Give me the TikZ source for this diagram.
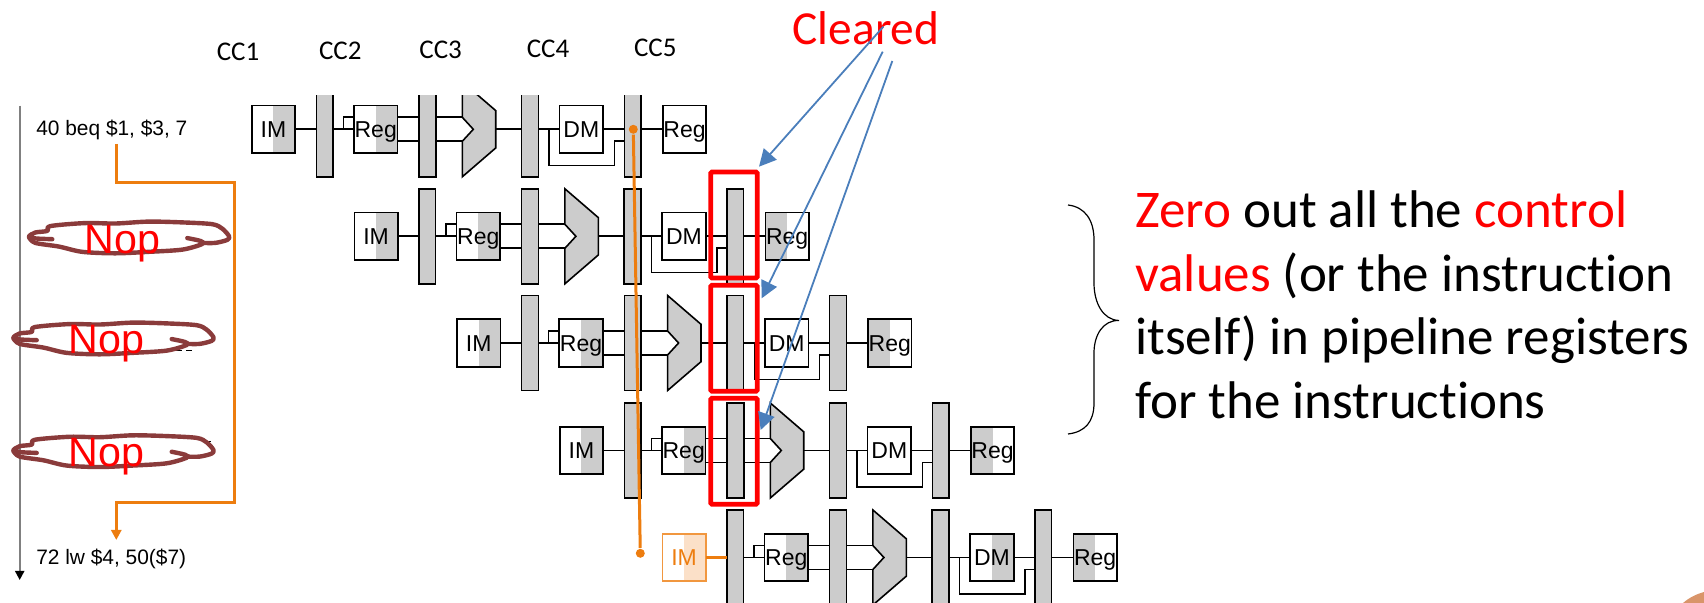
\documentclass[tikz,border=0pt]{standalone}
\usepackage{fontspec}
\setmainfont{Carlito}[Ligatures=CommonOff]
\newfontfamily\arialfont{Liberation Sans}
\usepackage{xcolor}
\usetikzlibrary{arrows.meta}
\definecolor{unitgray}{HTML}{CCCCCC}
\definecolor{wireorange}{HTML}{ED7D0F}
\definecolor{paleorange}{HTML}{FBE0C8}
\definecolor{arrowblue}{HTML}{4A7EBB}
\definecolor{scribblebrown}{HTML}{8A3B3B}
\definecolor{cornerblob}{HTML}{D9956A}
\tikzset{
    unitbox/.style={
        draw=black,
        rectangle,
        minimum width=21.75pt,
        minimum height=23.75pt,
        inner sep=0pt,
        outer sep=0pt,
        text height=8.2pt,
        text depth=0pt,
        font=\arialfont\fontsize{11.5}{11.5}\selectfont
    },
    shaderight/.style={
        unitbox,
        path picture={\fill[unitgray] (path picture bounding box.north) rectangle (path picture bounding box.south east);}
    },
    shadeleft/.style={
        unitbox,
        path picture={\fill[unitgray] (path picture bounding box.north west) rectangle (path picture bounding box.south);}
    },
    imorange/.style={
        unitbox,
        draw=wireorange!80,
        text=wireorange,
        path picture={\fill[paleorange] (path picture bounding box.north) rectangle (path picture bounding box.south east);}
    },
    pipebar/.style={
        draw=black,
        fill=unitgray,
        rectangle,
        minimum width=8.35pt,
        minimum height=47.5pt,
        inner sep=0pt,
        outer sep=0pt
    },
    alushape/.style={
        draw=black,
        fill=unitgray
    },
    clearbox/.style={
        draw=red,
        line width=2.3pt,
        rounded corners=0.6pt,
        minimum width=23.25pt,
        minimum height=53pt,
        inner sep=0pt,
        outer sep=0pt
    },
    clearedarrow/.style={
        arrowblue,
        line width=0.9pt,
        -{Triangle[length=8.5pt,width=8.5pt]}
    },
    branchwire/.style={
        wireorange,
        line width=1.5pt
    },
    branchdot/.style={
        circle,
        fill=wireorange,
        inner sep=0pt,
        minimum size=4.5pt
    },
    cclabel/.style={
        font=\fontsize{13.5}{14}\selectfont
    },
    instrlabel/.style={
        anchor=base west,
        inner sep=0pt,
        font=\arialfont\fontsize{10.45}{12}\selectfont
    },
    noplabel/.style={
        anchor=base west,
        inner sep=0pt,
        text=red,
        font=\arialfont\fontsize{20.6}{22}\selectfont
    },
    bodyline/.style={
        anchor=base west,
        inner sep=0pt,
        font=\fontsize{26.5}{30}\selectfont
    },
    scribble/.pic={
        \draw[scribblebrown,line width=2.2pt,line join=round,line cap=round,yscale=1.12]
            plot[smooth] coordinates {(24,1.7) (7,1) (0.7,-0.7) (7,-4.3) (19,-5.7) (22,-10) (57,-12.7) (87,-12.3)
                (120,-14) (154,-13.3) (184,-11.7) (194,-7.7) (200.7,-1) (199,2.3) (187,5) (174,5)};
        \draw[scribblebrown,line width=2.2pt,line join=round,line cap=round,yscale=1.12]
            plot[smooth] coordinates {(159,0.7) (172.3,3.3) (174,6) (154,11) (120,13) (87,14.3) (54,13)
                (30.7,8.3) (7,5) (0.7,0)};
    }
}
\begin{document}
\begin{tikzpicture}[x=0.5pt,y=-0.5pt,line width=0.8pt]

      \useasboundingbox (0,0) rectangle (1704,603);

      \begin{scope}
        \clip (0,96) rectangle (1704,603);
        \foreach \i/\x/\y/\imlook/\dmlook/\endlook in {
            1/251.7/129.3/shaderight/unitbox/unitbox,
            2/354.3/236.3/shaderight/unitbox/shadeleft,
            3/457/343/shaderight/unitbox/shadeleft,
            4/559.7/450.5/shaderight/unitbox/shadeleft,
            5/662.3/557.5/imorange/shaderight/shadeleft}
          {
            \begin{scope}[shift={(\x,\y)}]
              \node[\imlook] (im\i) at (21.75,0) {IM};
              \node[pipebar] (bara\i) at (72.95,0) {};
              \node[shaderight] (reg\i) at (124,0) {Reg};
              \node[pipebar] (barb\i) at (175.65,0) {};
              \node[pipebar] (barc\i) at (278.3,0) {};
              \node[\dmlook] (dm\i) at (329.65,0) {DM};
              \node[pipebar] (bard\i) at (380.95,0) {};
              \node[\endlook] (wb\i) at (432.8,0) {Reg};

              \coordinate (upper\i) at (0,-12);
              \coordinate (lower\i) at (0,12);
              \coordinate (loop\i) at (91.6,0);
              \coordinate (branch\i) at (297.3,0);
              \coordinate (turn\i) at (362.6,36.4);
              \coordinate (alu\i) at (244,0);

              \draw[alushape] (210.6,-47.5) -- (244,-18.7) -- (244,18.7) -- (210.6,47.5)
                  -- (210.6,12) -- (221.6,0) -- (210.6,-12) -- cycle;
            \end{scope}

            \draw (bara\i) -- (reg\i);
            \draw (loop\i) |- (upper\i -| reg\i.west);
            \draw (upper\i -| reg\i.east) -- (upper\i -| barb\i.west);
            \draw (lower\i -| reg\i.east) -- (lower\i -| barb\i.west);
            \draw (upper\i -| barb\i.east) -- ++(27,0);
            \draw (lower\i -| barb\i.east) -- ++(27,0);
            \draw (alu\i) -- (barc\i);
            \draw (barc\i) -- (dm\i);
            \draw (dm\i) -- (bard\i);
            \draw (branch\i) |- (turn\i) |- (lower\i -| bard\i.west);
            \draw (bard\i) -- (wb\i);
          }
        \draw (im1) -- (bara1);
        \draw (im2) -- (bara2);
        \draw (im3) -- (bara3);
        \draw (im4) -- (bara4);
        \draw[branchwire] (im5) -- (bara5);
      \end{scope}

      \foreach \i/\x/\y in {
          1/238/52,
          2/340.3/51,
          3/440.7/50,
          4/548/49,
          5/655.3/48.3}
        {
          \node[cclabel] (cc\i) at (\x,\y) {CC\i};
        }

      \coordinate (timetop) at (19.7,105.7);
      \coordinate (timeend) at (19.7,580);
      \draw[gray,line width=1pt,-{Triangle[black,length=4.5pt,width=4.5pt]}] (timetop) -- (timeend);

      \node[instrlabel] (beq) at (35.5,135.7) {40 beq \$1, \$3, 7};
      \node[instrlabel] (lw) at (35.5,564.3) {72 lw \$4, 50(\$7)};

      \foreach \x/\y in {41/231, 162/351, 176/350, 186/350, 40/439, 196/439, 205/441}
        {
          \fill[black] (\x,\y) rectangle ++(6,1.5);
        }

      \pic (scriba) at (28.3,237.3) {scribble};
      \pic (scribb) at (12.7,338.3) {scribble};
      \pic (scribc) at (12.7,451) {scribble};
      \node[noplabel] (nopa) at (84,253.3) {Nop};
      \node[noplabel] (nopb) at (68,353.3) {Nop};
      \node[noplabel] (nopc) at (68,466.7) {Nop};

      \coordinate (turna) at (116.3,183);
      \coordinate (turnb) at (234.7,183);
      \coordinate (turnc) at (234.7,502.3);
      \coordinate (turnd) at (116.3,502.3);
      \coordinate (beqout) at (116.3,144);
      \coordinate (lwin) at (116.3,540);
      \draw[branchwire,-{Triangle[length=5pt,width=5pt]}]
          (beqout) -- (turna) -- (turnb) -- (turnc) -- (turnd) -- (lwin);

      \node[branchdot] (dota) at (633.3,129.3) {};
      \node[branchdot] (dotb) at (640.3,553.3) {};
      \draw[branchwire] (dota) -- (dotb);

      \node[clearbox] (clearmem) at (734,225) {};
      \node[clearbox] (clearex) at (734,338.3) {};
      \node[clearbox] (clearid) at (734,451.3) {};

      \node[font=\fontsize{23.7}{26}\selectfont,text=red,anchor=base] (cleared) at (866,45) {Cleared};

      \coordinate (froma) at (883.3,26.7);
      \coordinate (fromb) at (882.7,51.7);
      \coordinate (fromc) at (892.3,61);
      \coordinate (tipa) at (759,166.7);
      \coordinate (tipb) at (761.7,298.3);
      \coordinate (tipc) at (760.7,430);
      \draw[clearedarrow] (froma) -- (tipa);
      \draw[clearedarrow] (fromb) -- (tipb);
      \draw[clearedarrow] (fromc) -- (tipc);

      \coordinate (bracetop) at (1068,205);
      \coordinate (bracetip) at (1119,320.5);
      \coordinate (braceend) at (1068,434);
      \draw[line width=0.6pt] (bracetop) .. controls (1085,207) and (1094,220) .. (1094,240)
          -- (1094,283) .. controls (1094,303) and (1103,320) .. (bracetip)
          .. controls (1103,320) and (1094,335) .. (1094,353)
          -- (1094,403) .. controls (1094,422) and (1085,432) .. (braceend);

      \node[bodyline] (linea) at (1134.5,228) {\textcolor{red}{Zero} out all the \textcolor{red}{control}};
      \node[bodyline] (lineb) at (1134.5,291.5) {\textcolor{red}{values} (or the instruction};
      \node[bodyline] (linec) at (1134.5,355) {itself) in pipeline registers};
      \node[bodyline] (lined) at (1134.5,418.5) {for the instructions};

      \fill[cornerblob] (1683,603) .. controls (1690,597) and (1697,594) .. (1704,592) -- (1704,603) -- cycle;

    \end{tikzpicture}
\end{document}
